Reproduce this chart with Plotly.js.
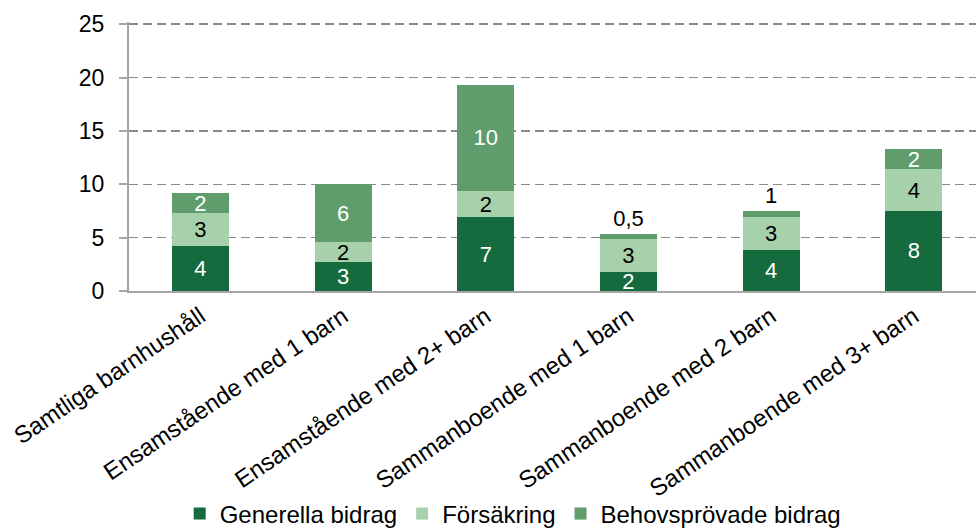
<!DOCTYPE html>
<html>
<head>
<meta charset="utf-8">
<script src="https://cdn.plot.ly/plotly-3.0.1.min.js"></script>
<style>html,body{margin:0;padding:0;background:#fff;}#chart{width:976px;height:529px;}</style>
</head>
<body>
<div id="chart"></div>
<script>
const categories = ["Samtliga barnhushåll", "Ensamstående med 1 barn", "Ensamstående med 2+ barn", "Sammanboende med 1 barn", "Sammanboende med 2 barn", "Sammanboende med 3+ barn"];
const generella = [4.19, 2.69, 6.91, 1.75, 3.81, 7.5];
const forsakring = [3.12, 1.87, 2.43, 3.12, 3.1, 3.91];
const behovsprovade = [1.85, 5.47, 10.0, 0.45, 0.56, 1.87];
const generellaLabels = ["4", "3", "7", "2", "4", "8"];
const forsakringLabels = ["3", "2", "2", "3", "3", "4"];
const behovsprovadeLabels = ["2", "6", "10", "0,5", "1", "2"];
const seriesNames = ["Generella bidrag", "Försäkring", "Behovsprövade bidrag"];
const yTicks = [0, 5, 10, 15, 20, 25];

const FONT = "Liberation Sans, Arial, sans-serif";
const common = {type: "bar", x: categories, width: 0.4, textangle: 0, insidetextanchor: "middle", constraintext: "none", hoverinfo: "skip", cliponaxis: false};

const traces = [
  Object.assign({}, common, {name: seriesNames[0], y: generella, text: generellaLabels, textposition: "inside",
    marker: {color: "#156b3e"}, textfont: {family: FONT, size: 22, color: "#ffffff"}}),
  Object.assign({}, common, {name: seriesNames[1], y: forsakring, text: forsakringLabels, textposition: "inside",
    marker: {color: "#a7d1ab"}, textfont: {family: FONT, size: 22, color: "#000000"}}),
  Object.assign({}, common, {name: seriesNames[2], y: behovsprovade, text: behovsprovadeLabels,
    textposition: ["inside", "inside", "inside", "outside", "outside", "inside"],
    marker: {color: "#5f9e6c"},
    textfont: {family: FONT, size: 22, color: ["#ffffff", "#ffffff", "#ffffff", "#000000", "#000000", "#ffffff"]}})
];

const layout = {
  width: 976, height: 529,
  margin: {l: 129, r: 0, t: 22, b: 238, autoexpand: false},
  barmode: "stack",
  paper_bgcolor: "#ffffff", plot_bgcolor: "#ffffff",
  font: {family: FONT, size: 22, color: "#000000"},
  uniformtext: {mode: "show", minsize: 22},
  xaxis: {
    range: [-0.5, 5.435], showline: true, linecolor: "#a6a6a6", linewidth: 2,
    ticks: "", tickangle: -34, tickfont: {family: FONT, size: 24, color: "#000"},
    showgrid: false, zeroline: false, fixedrange: true, automargin: false
  },
  yaxis: {
    range: [0, 25.2], tickvals: yTicks, showline: true, linecolor: "#a6a6a6", linewidth: 2,
    ticks: "outside", ticklen: 8, tickcolor: "#a6a6a6", tickwidth: 2,
    ticklabelstandoff: 10,
    tickfont: {family: FONT, size: 23, color: "#000"},
    showgrid: true, gridcolor: "#8a8a8a", gridwidth: 1.5, griddash: "9px,5px",
    zeroline: false, fixedrange: true, automargin: false
  },
  showlegend: true,
  legend: {orientation: "h", x: 0.453, xanchor: "center", y: -0.829, yanchor: "middle",
    bgcolor: "rgba(0,0,0,0)",
    font: {family: FONT, size: 24, color: "#000"}, traceorder: "normal", itemclick: false}
};

Plotly.newPlot("chart", traces, layout, {staticPlot: true, displayModeBar: false});
</script>
</body>
</html>
